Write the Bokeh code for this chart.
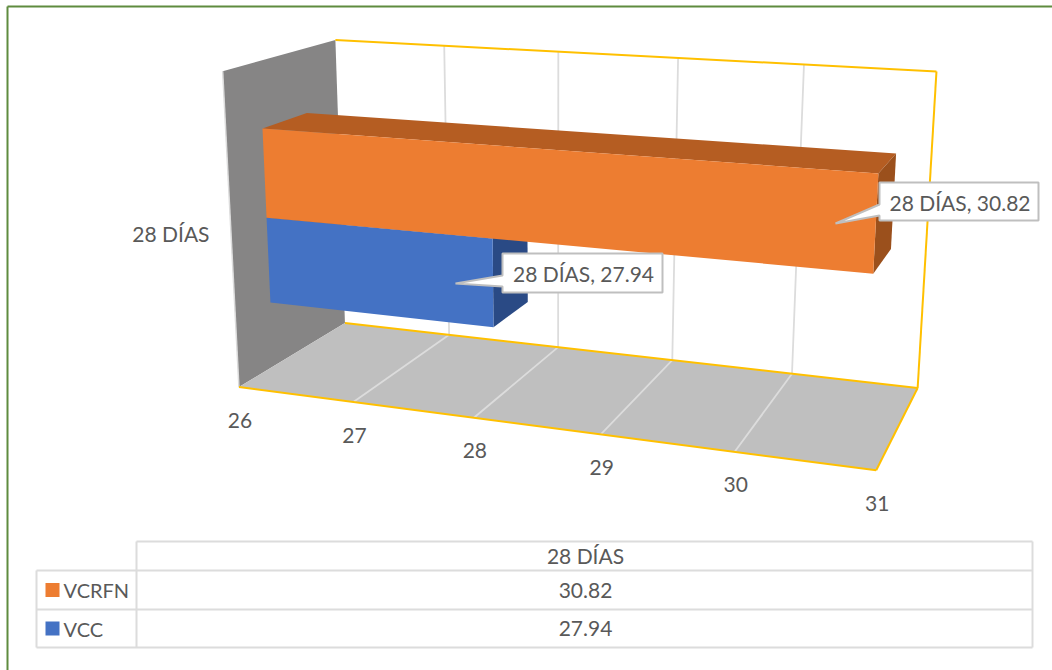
import numpy as np
from bokeh.core.properties import value
from bokeh.embed import file_html
from bokeh.models import Range1d
from bokeh.plotting import figure
from bokeh.resources import INLINE

# Chart values
category = "28 DÍAS"
series_names = ["VCRFN", "VCC"]
series_values = [30.82, 27.94]
axis_ticks = [26, 27, 28, 29, 30, 31]

# Styling
FONT = value("Lato")
TEXT = "#595959"
GRID = "#dcdcdc"
GOLD = "#ffc000"
FRONT = {"VCRFN": "#ed7d31", "VCC": "#4472c4"}
TOP = {"VCRFN": "#b55d22", "VCC": "#335593"}
SIDE = {"VCRFN": "#9b501c", "VCC": "#2a4a85"}

# Bar slab inside the chart box: depth span and height span per series
DEPTH = (0.30, 0.70)
HEIGHT = {"VCRFN": (0.499, 0.787), "VCC": (0.217, 0.499)}

# Camera: projective map fitted to where the box corners and floor ticks land
anchors = [
    (26, 0, 0, 239, 387), (31, 0, 0, 875, 470), (26, 1, 0, 344, 323), (31, 1, 0, 916, 388),
    (26, 1, 1, 335, 41), (31, 1, 1, 936, 70), (26, 0, 1, 222, 70),
    (27, 0, 0, 353, 402), (28, 0, 0, 472, 417), (29, 0, 0, 602, 434), (30, 0, 0, 734, 451),
    (27, 1, 0, 447, 331), (28, 1, 0, 559, 347), (29, 1, 0, 673, 360), (30, 1, 0, 792, 374),
]
A, b = [], []
for v, d, h, u, w in anchors:
    X = (v - 26) / 5
    A.append([X, d, h, 1, 0, 0, 0, 0, -u * X, -u * d, -u * h]); b.append(u)
    A.append([0, 0, 0, 0, X, d, h, 1, -w * X, -w * d, -w * h]); b.append(w)
cam = np.append(np.linalg.lstsq(np.array(A, float), np.array(b, float), rcond=None)[0], 1).reshape(3, 4)


def project(v, d, h):
    q = cam @ np.array([(v - 26) / 5, d, h, 1.0])
    return q[0] / q[2], q[1] / q[2]


def face(*pts):
    xy = [project(*pt) for pt in pts]
    return [a for a, _ in xy], [c for _, c in xy]


p = figure(width=1052, height=670, output_backend="svg", toolbar_location=None,
           x_range=Range1d(0, 1052), y_range=Range1d(670, 0), min_border=0,
           background_fill_color="white", border_fill_color="white", outline_line_color=None)
p.axis.visible = False
p.grid.visible = False

# Outer chart border
p.line([7, 7], [6, 670], line_color="#5f8b3f", line_width=2)
p.line([7, 1052], [6, 6], line_color="#5f8b3f", line_width=2)

vmin, vmax = axis_ticks[0], axis_ticks[-1]

# Side wall and floor
xs, ys = face((vmin, 0, 0), (vmin, 0, 1), (vmin, 1, 1), (vmin, 1, 0))
p.patch(xs, ys, fill_color="#868585", line_color=None)
xs, ys = face((vmin, 0, 1), (vmin, 0, 0))
p.line(xs, ys, line_color=GRID, line_width=1.5)
xs, ys = face((vmin, 0, 0), (vmax, 0, 0), (vmax, 1, 0), (vmin, 1, 0))
p.patch(xs, ys, fill_color="#bfbfbf", line_color=None)

# Gridlines on the back wall and floor
for t in axis_ticks[1:-1]:
    xs, ys = face((t, 0, 0), (t, 1, 0), (t, 1, 1))
    p.line(xs, ys, line_color=GRID, line_width=1.8)

# Gold box edges
for a, c in [((vmin, 1, 1), (vmax, 1, 1)), ((vmax, 1, 1), (vmax, 1, 0)), ((vmin, 1, 0), (vmax, 1, 0)),
             ((vmin, 0, 0), (vmax, 0, 0)), ((vmax, 0, 0), (vmax, 1, 0))]:
    xs, ys = face(a, c)
    p.line(xs, ys, line_color=GOLD, line_width=2)

# 3D bars, the lower series first so the upper one overlaps it
for name, val in sorted(zip(series_names, series_values), key=lambda s: HEIGHT[s[0]][0]):
    h0, h1 = HEIGHT[name]
    d0, d1 = DEPTH
    xs, ys = face((vmin, d0, h1), (val, d0, h1), (val, d1, h1), (vmin, d1, h1))
    p.patch(xs, ys, fill_color=TOP[name], line_color=None)
    xs, ys = face((val, d0, h0), (val, d0, h1), (val, d1, h1), (val, d1, h0))
    p.patch(xs, ys, fill_color=SIDE[name], line_color=None)
    xs, ys = face((vmin, d0, h0), (vmin, d0, h1), (val, d0, h1), (val, d0, h0))
    p.patch(xs, ys, fill_color=FRONT[name], line_color=None)

# Value callouts: box plus wedge pointing into the bar
callouts = [
    (series_values[0], 879, 1038, 182, 220, 835, 223, 204, 215),
    (series_values[1], 502, 662, 253, 292, 455, 283, 275, 286),
]
for val, x0, x1, y0, y1, tipx, tipy, b0, b1 in callouts:
    p.patch([x0, x0, tipx, x0, x0, x1, x1], [y0, b0, tipy, b1, y1, y1, y0],
            fill_color="white", line_color="#bfbfbf", line_width=2)
    p.text([(x0 + x1) / 2 + 1], [(y0 + y1) / 2 + 0.5], text=[f"{category}, {val:.2f}"], text_font=FONT,
           text_font_size="21px", text_color=TEXT, text_align="center", text_baseline="middle")

# Axis labels
for t in axis_ticks:
    tx, ty = project(t, 0, 0)
    p.text([tx + 1], [ty + 33], text=[str(t)], text_font=FONT, text_font_size="21px",
           text_color=TEXT, text_align="center", text_baseline="middle")
p.text([209], [233], text=[category], text_font=FONT, text_font_size="21px",
       text_color=TEXT, text_align="right", text_baseline="middle")

# Data table beneath the chart
tx0, tx1, tx2 = 36, 136, 1032
ty = [541, 570, 609, 647]
for x0, x1, y0, y1 in [(tx1, tx2, ty[0], ty[0]), (tx0, tx2, ty[1], ty[1]), (tx0, tx2, ty[2], ty[2]),
                       (tx0, tx2, ty[3], ty[3]), (tx0, tx0, ty[1], ty[3]), (tx1, tx1, ty[0], ty[3]),
                       (tx2, tx2, ty[0], ty[3])]:
    p.line([x0, x1], [y0, y1], line_color=GRID, line_width=2)

cx = (tx1 + tx2) / 2 + 1
p.text([cx], [(ty[0] + ty[1]) / 2 - 1], text=[category], text_font=FONT, text_font_size="21px",
       text_color=TEXT, text_align="center", text_baseline="middle")
for i, (name, val) in enumerate(zip(series_names, series_values)):
    cy = (ty[i + 1] + ty[i + 2]) / 2
    p.quad(left=45, right=59, top=cy - 7, bottom=cy + 7, fill_color=FRONT[name], line_color=None)
    p.text([63], [cy], text=[name], text_font=FONT, text_font_size="20px",
           text_color=TEXT, text_align="left", text_baseline="middle")
    p.text([cx], [cy], text=[f"{val:.2f}"], text_font=FONT, text_font_size="21px",
           text_color=TEXT, text_align="center", text_baseline="middle")

open("out.html", "w").write(file_html(p, INLINE))
